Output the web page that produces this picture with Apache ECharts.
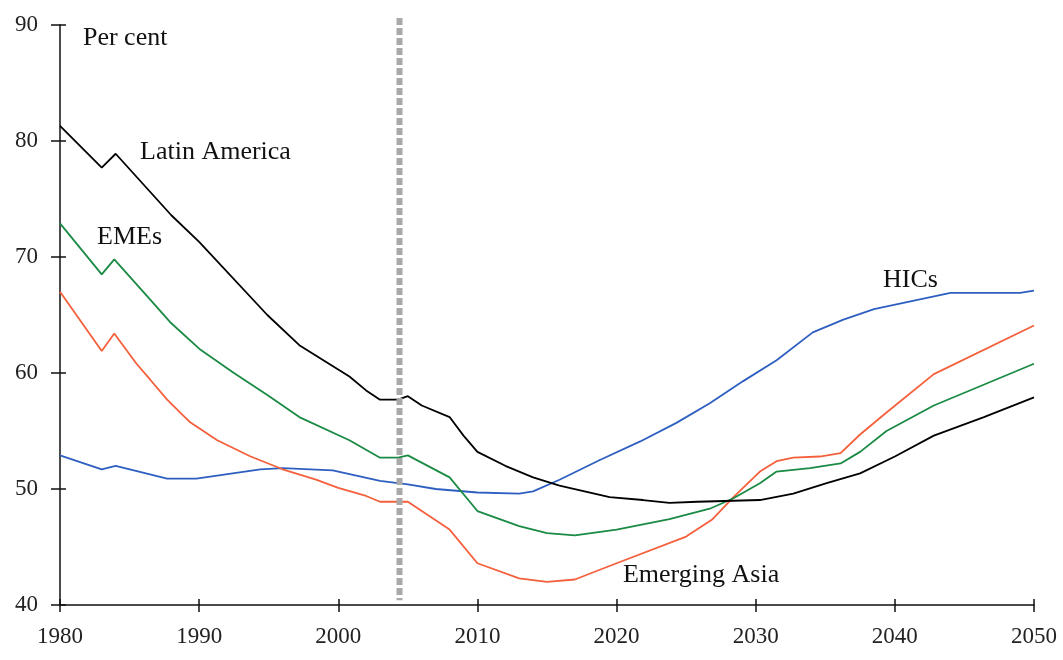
<!DOCTYPE html>
<html>
<head>
<meta charset="utf-8">
<script src="https://cdn.jsdelivr.net/npm/echarts@6/dist/echarts.min.js"></script>
<style>
html,body{margin:0;padding:0;background:#fff;}
#chart{width:1063px;height:660px;}
</style>
</head>
<body>
<div id="chart"></div>
<script>
// Latin America
const latamYears = [1980,1983,1984,1988,1990,1994.9,1997.2,2000.8,2002,2003,2004.3,2005,2006,2008,2009,2010,2012,2014,2015.9,2019.5,2021.9,2023.8,2025.8,2030.3,2032.7,2035.1,2037.5,2040,2042.8,2046.4,2050];
const latamVals  = [81.3,77.7,78.9,73.6,71.3,65.0,62.4,59.7,58.5,57.7,57.7,58.0,57.2,56.2,54.6,53.2,52.0,51.0,50.3,49.3,49.05,48.8,48.9,49.05,49.6,50.5,51.35,52.8,54.6,56.2,57.9];
// EMEs
const emeYears = [1980,1983,1983.9,1986.5,1987.9,1990.1,1992.5,1994.9,1997.2,2000.8,2003,2004.3,2005,2008,2010,2013,2015,2017,2020,2023.8,2026.7,2028.4,2030.3,2031.5,2033.9,2036.1,2037.5,2039.4,2042.8,2050];
const emeVals  = [72.9,68.5,69.8,66.3,64.4,62.0,60.0,58.1,56.2,54.2,52.7,52.7,52.9,51.0,48.1,46.8,46.2,46.0,46.5,47.4,48.3,49.2,50.5,51.5,51.8,52.2,53.2,55.0,57.2,60.8];
// Emerging Asia
const asiaYears = [1980,1983,1983.9,1985.5,1986.5,1987.7,1989.3,1991.3,1993.7,1996,1998.4,2000,2002,2003,2004.3,2005,2008,2010,2013,2015,2017,2020,2025,2026.9,2028.4,2030.3,2031.5,2032.7,2034.6,2036.1,2037.5,2039.4,2042.8,2050];
const asiaVals  = [67.0,61.9,63.4,60.8,59.4,57.7,55.8,54.2,52.8,51.7,50.8,50.1,49.4,48.9,48.9,48.9,46.5,43.6,42.3,42.0,42.2,43.6,45.9,47.4,49.3,51.5,52.4,52.7,52.8,53.1,54.7,56.6,59.9,64.1];
// HICs
const hicYears = [1980,1983,1984,1987.7,1989.8,1994.4,1996,1999.6,2003,2005,2007,2010,2013,2014,2015.9,2018.8,2021.7,2024.3,2026.7,2029.1,2031.5,2034.1,2036.3,2038.5,2044,2049,2050];
const hicVals  = [52.9,51.7,52.0,50.9,50.9,51.7,51.8,51.6,50.7,50.4,50.0,49.7,49.6,49.8,50.8,52.5,54.1,55.7,57.4,59.3,61.1,63.5,64.6,65.5,66.9,66.9,67.1];

const xTicks = [1980,1990,2000,2010,2020,2030,2040,2050];
const yTicks = [40,50,60,70,80,90];
const forecastYear = 2004.4;
const forecastSpan = [40.4, 90.6];

// annotations: text, year, value (left-anchored)
const notes = [
  ['Per cent', 1981.65, 88.9],
  ['Latin America', 1985.75, 79.05],
  ['EMEs', 1982.66, 71.7],
  ['HICs', 2039.15, 68.0],
  ['Emerging Asia', 2020.46, 42.6]
];

const pair = (xs, ys) => xs.map((x, i) => [x, ys[i]]);
const FONT = '"Liberation Serif","DejaVu Serif",serif';

const chart = echarts.init(document.getElementById('chart'));
const baseX = {type: 'value', min: 1980, max: 2050, interval: 10, splitLine: {show: false}};
const baseY = {type: 'value', min: 40, max: 90, interval: 10, splitLine: {show: false}};
const lineSeries = (name, xs, ys, color) => ({
  name, type: 'line', data: pair(xs, ys), showSymbol: false, symbol: 'none',
  smooth: false, lineStyle: {color, width: 1.8}, itemStyle: {color},
  xAxisIndex: 0, yAxisIndex: 0, z: 3
});

const option = {
  animation: false,
  backgroundColor: '#fff',
  grid: {left: 60, right: 29, top: 25, bottom: 55, containLabel: false},
  xAxis: [
    Object.assign({}, baseX, {
      position: 'bottom',
      axisLine: {show: true, lineStyle: {color: '#111', width: 1.5}},
      axisTick: {show: true, inside: false, length: 7, lineStyle: {color: '#111', width: 1.5}},
      axisLabel: {show: true, margin: 20, color: '#222', fontFamily: FONT, fontSize: 23,
        formatter: v => xTicks.includes(v) ? String(v) : ''}
    }),
    Object.assign({}, baseX, {
      position: 'bottom', offset: 0,
      axisLine: {show: true, lineStyle: {color: '#111', width: 1.5, opacity: 0}},
      axisTick: {show: true, inside: true, length: 6, lineStyle: {color: '#111', width: 1.5}},
      axisLabel: {show: false}
    })
  ],
  yAxis: [
    Object.assign({}, baseY, {
      position: 'left',
      axisLine: {show: true, lineStyle: {color: '#111', width: 1.5}},
      axisTick: {show: true, inside: false, length: 9, lineStyle: {color: '#111', width: 1.5}},
      axisLabel: {show: true, margin: 22, color: '#222', fontFamily: FONT, fontSize: 23,
        formatter: v => yTicks.includes(v) ? String(v) : ''}
    }),
    Object.assign({}, baseY, {
      position: 'left', offset: 0,
      axisLine: {show: true, lineStyle: {color: '#111', width: 1.5, opacity: 0}},
      axisTick: {show: true, inside: true, length: 6, lineStyle: {color: '#111', width: 1.5}},
      axisLabel: {show: false}
    })
  ],
  series: [
    lineSeries('HICs', hicYears, hicVals, '#2e5fc0'),
    lineSeries('Emerging Asia', asiaYears, asiaVals, '#f4603c'),
    lineSeries('EMEs', emeYears, emeVals, '#1a8a44'),
    lineSeries('Latin America', latamYears, latamVals, '#000000')
  ]
};
chart.setOption(option);

const toPx = (x, y) => chart.convertToPixel({xAxisIndex: 0, yAxisIndex: 0}, [x, y]);
const graphics = notes.map(([t, x, y]) => {
  const p = toPx(x, y);
  return {
    type: 'text', x: p[0], y: p[1], z: 10,
    style: {text: t, fill: '#111', font: '26px ' + FONT, textAlign: 'left', textVerticalAlign: 'middle'}
  };
});
const pTop = toPx(forecastYear, forecastSpan[1]);
const pBot = toPx(forecastYear, forecastSpan[0]);
graphics.push({
  type: 'line', z: 5, silent: true,
  shape: {x1: pTop[0], y1: pTop[1], x2: pBot[0], y2: pBot[1]},
  style: {stroke: '#a9a9a9', lineWidth: 6, lineDash: [7, 3]}
});
chart.setOption({graphic: graphics});
</script>
</body>
</html>
